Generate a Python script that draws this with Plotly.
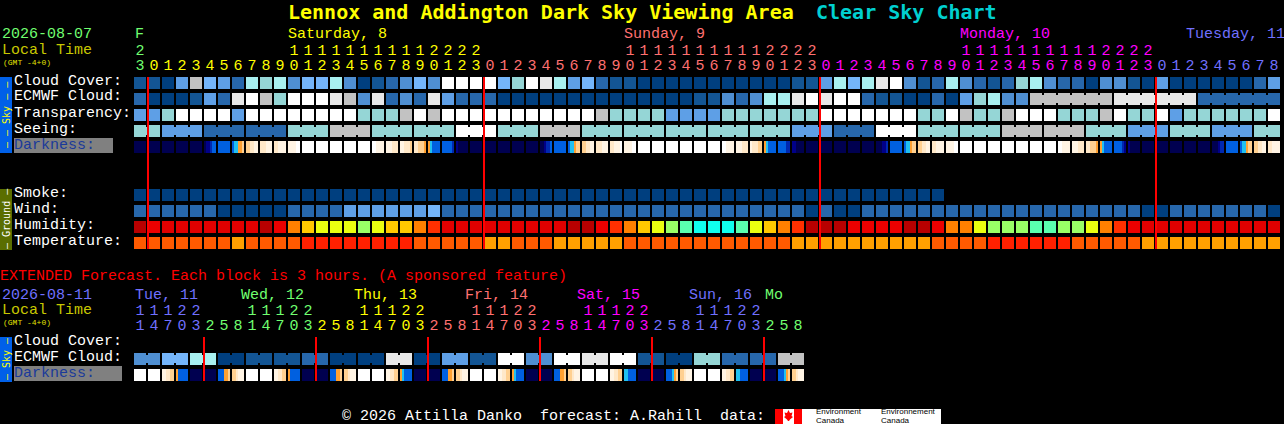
import plotly.graph_objects as go

W, H = 1284, 424
X_EDGE0 = 133      # pixel position of column edge 0
PITCH = 14         # pixels per column
MONO = "Liberation Mono"
TITLE_FONT = "DejaVu Sans Mono"

# ---------- palettes ----------
sky_colors = ["#003F7F", "#135594", "#2767AB", "#4F8FD2", "#5E9FE6", "#74B5FA",
              "#A8F0F0", "#95D6D6", "#C2C2C2", "#E8E8E8", "#FFFFFF"]
humidity_colors = ["#B80000", "#E00000", "#EC0000", "#FF3000", "#FF8000",
                   "#FFC800", "#EAFF10", "#99FF66", "#5AFFAF", "#10FFEE"]
temperature_colors = ["#FF2000", "#FF5A00", "#FFA000"]
darkness_colors = ["#000050", "#000088", "#0028B0", "#0060E0", "#20C0F0",
                   "#FFA030", "#FFD090", "#FFE8C8", "#FFF4E4", "#FFFFFF"]

# ---------- main forecast rows (one value per hour) ----------
cloud_cover = [1,1,0,4,8,5,4,2,6,7,6,3,5,5,6,3,0,1,2,3,5,
               3,10,10,10,10,5,7,10,9,6,4,5,2,1,1,0,0,0,0,0,0,0,0,0,0,0,1,1,4,6,5,
               6,9,10,3,1,2,6,3,2,1,2,7,6,3,2,2,0,3,3,1,0,4,0,0,0,0,0,0,2,4]
ecmwf_cloud = [2,0,0,0,1,4,2,9,10,8,7,10,10,10,9,8,3,9,2,3,2,
               9,4,2,2,2,0,0,0,0,0,0,0,0,0,0,0,0,0,0,1,1,3,2,3,6,6,9,10,9,10,10,
               2,1,1,0,0,2,0,4,7,6,3,3,8,8,8,8,8,8,9,9,9,9,9,9,2,2,2,2,2,2]
ecmwf_merged_spans = [[64, 69], [70, 75], [76, 81]]
transparency = [4,4,7,10,10,10,10,4,10,10,10,10,10,10,10,10,7,7,7,8,10,
                8,10,10,10,10,10,10,10,10,10,10,10,8,7,7,7,7,4,4,4,4,7,7,7,7,7,7,7,10,10,10,
                10,10,10,10,7,7,10,8,7,7,8,10,10,10,7,7,7,8,10,7,7,10,4,7,7,7,7,7,7,10]
seeing_blocks = [7,4,2,2,7,8,7,7,10,7,8,7,7,7,7,7,4,2,10,7,7,8,8,7,4,7,4,7]
seeing_block_sizes = [2,3,3,3,3,3,3,3,3,3,3,3,3,3,3,3,3,3,3,3,3,3,3,3,3,3,3,2]
smoke = [0,0,0,0,0,0,0,0,0,0,0,0,0,0,0,0,0,0,0,0,0,0,0,0,0,0,0,0,0,
         0,0,0,0,0,0,0,0,0,0,0,0,0,0,0,0,0,0,0,0,0,0,0,0,0,0,0,0,0]
wind = [2,2,2,2,2,2,0,0,0,0,0,2,2,2,2,4,4,4,4,4,4,
        5,2,2,2,2,2,2,2,2,2,2,2,2,2,2,2,2,2,2,2,2,2,2,2,2,2,2,0,2,0,0,
        2,2,2,2,2,2,2,2,2,2,2,2,2,2,2,2,2,2,2,2,0,0,2,2,2,2,2,2,2,0]
humidity = [0,2,1,1,1,1,1,1,1,0,2,4,5,6,6,6,7,6,5,5,4,
            3,1,1,1,1,1,1,1,1,1,0,0,2,3,4,5,6,7,8,9,9,9,8,6,5,4,3,0,0,0,2,
            2,2,2,0,0,2,4,4,6,7,7,7,8,8,7,7,6,4,3,2,1,1,1,1,1,1,1,1,1,1]
temperature = [1,1,1,1,1,1,1,2,1,1,1,1,0,0,0,0,0,0,0,0,1,
               1,1,1,1,2,2,1,1,1,2,2,2,2,2,1,1,1,1,1,1,1,1,1,1,1,1,2,2,2,2,2,
               2,2,2,2,2,1,1,1,1,0,0,0,0,0,0,1,1,1,1,1,2,2,2,2,2,2,2,2,2,2]
# six sub-samples across every hour, darkest (0) to full daylight (9)
darkness = ["000000","000000","000000","000000","000000","011233","333333","344556",
            "667788","777888","778888","888899","999999","999999","999999","999999",
            "999999","998888","888777","887776","776665","543333","333332","100000",
            "000000","000000","000000","000000","000000","001223","333333","344566",
            "667788","777888","778889","888899","999999","999999","999999","999999",
            "999999","999999","998888","888777","877766","543333","333322","110000",
            "000000","000000","000000","000000","000000","000112","333333","344566",
            "667788","778888","888899","999999","999999","999999","999999","999999",
            "999999","999999","998888","888777","776665","543333","333321","100000",
            "000000","000000","000000","000000","000000","000122","333333","344566",
            "667788","778888"]

# ---------- extended forecast rows (one value per 3 hours) ----------
ext_ecmwf_pairs = [3,5,6,0,1,1,2,0,0,9,0,4,1,10,3,10,9,10,1,0,7,2,2,8]
ext_darkness = ["999999","999999","887766","533333","000000","000000","333556","667888",
                "999999","999999","887766","533333","000000","000000","333556","667888",
                "999999","999999","887766","543333","000000","000000","333556","667888",
                "999999","999999","887766","543333","000000","000000","333556","667888",
                "999999","999999","887766","443333","000000","000000","333456","667888",
                "999999","999999","887766","443333","000000","000000","333456","667888"]

# ---------- tick labels ----------
hour_tens = "2" + "          11111111112222" * 3 + "         "
hour_ones = "3" + "012345678901234567890123" * 3 + "012345678"
hour_groups = [("#70FF70", 1), ("#FFFF00", 24), ("#FF7070", 24), ("#FF00FF", 24), ("#7070FF", 9)]
ext_tens = "11122" + "   11122" * 5 + "   "
ext_ones = "14703" + "25814703" * 5 + "258"
ext_groups = [("#7070FF", 5), ("#70FF70", 8), ("#FFFF00", 8), ("#FF7070", 8),
              ("#FF00FF", 8), ("#7070FF", 8), ("#70FF70", 3)]
day_labels = [("F", 135, "#70FF70"), ("Saturday, 8", 288, "#FFFF00"), ("Sunday, 9", 624, "#FF7070"),
              ("Monday, 10", 960, "#FF00FF"), ("Tuesday, 11", 1186, "#7070FF")]
ext_day_labels = [("Tue, 11", 135, "#7070FF"), ("Wed, 12", 241, "#70FF70"), ("Thu, 13", 354, "#FFFF00"),
                  ("Fri, 14", 465, "#FF7070"), ("Sat, 15", 577, "#FF00FF"), ("Sun, 16", 689, "#7070FF"),
                  ("Mo", 765, "#70FF70")]
midnights = [1, 25, 49, 73]
ext_midnights = [5, 13, 21, 29, 37, 45]

# ---------- derived ----------
seeing, seeing_spans = [], []
for value, size in zip(seeing_blocks, seeing_block_sizes):
    seeing_spans.append([len(seeing), len(seeing) + size - 1])
    seeing += [value] * size
ext_ecmwf, ext_spans = [], []
for value in ext_ecmwf_pairs:
    ext_spans.append([len(ext_ecmwf), len(ext_ecmwf) + 1])
    ext_ecmwf += [value, value]
for row in (cloud_cover, ecmwf_cloud, transparency, seeing, wind, humidity, temperature, darkness):
    assert len(row) == 82, len(row)
assert len(smoke) == 58 and len(ext_ecmwf) == 48 and len(ext_darkness) == 48


def stepped(colors):
    n = len(colors)
    scale = []
    for i, c in enumerate(colors):
        scale += [[i / n, c], [(i + 1) / n, c]]
    return scale


fig = go.Figure()


def row_cells(values, colors, top, height=12):
    fig.add_trace(go.Heatmap(
        x=list(range(len(values) + 1)), y=[top, top + height], z=[values],
        colorscale=stepped(colors), zmin=-0.5, zmax=len(colors) - 0.5,
        xgap=2, showscale=False, hoverinfo="skip"))


def bridges(values, colors, spans, top, height=12):
    xs, cols = [], []
    for a, b in spans:
        for i in range(a, b):
            xs.append(i + 1)
            cols.append(colors[values[i]])
    fig.add_trace(go.Bar(x=xs, y=[height - 4] * len(xs), base=[top + 2] * len(xs),
                         width=[2 / PITCH] * len(xs), marker=dict(color=cols, line_width=0),
                         hoverinfo="skip", showlegend=False))


def darkness_row(cells, top, height=12):
    # each hour: six 2-pixel samples, then one empty 2-pixel column for the gap
    z, edges = [], []
    for i, samples in enumerate(cells):
        for k, s in enumerate(samples):
            z.append(int(s))
            edges.append(i + (1 + 2 * k) / PITCH)
        z.append(None)
        edges.append(i + 13 / PITCH)
    edges.append(len(cells) + 1 / PITCH)
    fig.add_trace(go.Heatmap(x=edges, y=[top, top + height], z=[z],
                             colorscale=stepped(darkness_colors), zmin=-0.5, zmax=9.5,
                             showscale=False, hoverinfo="skip", hoverongaps=False))


row_cells(cloud_cover, sky_colors, 77)
row_cells(ecmwf_cloud, sky_colors, 93)
bridges(ecmwf_cloud, sky_colors, ecmwf_merged_spans, 93)
row_cells(transparency, sky_colors, 109)
row_cells(seeing, sky_colors, 125)
bridges(seeing, sky_colors, seeing_spans, 125)
darkness_row(darkness, 141)
row_cells(smoke, sky_colors, 189)
row_cells(wind, sky_colors, 205)
row_cells(humidity, humidity_colors, 221)
row_cells(temperature, temperature_colors, 237)
row_cells(ext_ecmwf, sky_colors, 353)
bridges(ext_ecmwf, sky_colors, ext_spans, 353)
darkness_row(ext_darkness, 369)


def digits(text, groups, y):
    cols = []
    for c, n in groups:
        cols += [c] * n
    idx = [i for i, ch in enumerate(text) if ch != " "]
    fig.add_trace(go.Scatter(x=[i + 0.5 for i in idx], y=[y] * len(idx), mode="text",
                             text=[text[i] for i in idx],
                             textfont=dict(family=MONO, size=15, color=[cols[i] for i in idx]),
                             textposition="middle center", hoverinfo="skip", showlegend=False,
                             cliponaxis=False))


digits(hour_tens, hour_groups, 51)
digits(hour_ones, hour_groups, 66)
digits(ext_tens, ext_groups, 311)
digits(ext_ones, ext_groups, 326)

annotations = []


def label(text, x, y, color="#FFFFFF", size=15, family=MONO, bold=False, angle=0, anchor="left"):
    annotations.append(dict(
        text=f"<b>{text}</b>" if bold else text, xref="paper", yref="paper",
        x=x / W, y=1 - y / H, xanchor=anchor, yanchor="middle", showarrow=False,
        font=dict(family=family, size=size, color=color), textangle=angle,
        borderpad=0, borderwidth=0))


shapes = []


def rect(x0, y0, x1, y1, color, layer="below"):
    shapes.append(dict(type="rect", xref="paper", yref="paper", x0=x0 / W, x1=x1 / W,
                       y0=1 - y0 / H, y1=1 - y1 / H, fillcolor=color, line_width=0, layer=layer))


def redline(col, y0, y1):
    px = X_EDGE0 + PITCH * col
    rect(px, y0, px + 2, y1, "#FF0000", "above")


# titles and headers
label("Lennox and Addington Dark Sky Viewing Area", 288, 12, "#FFFF00", 20, TITLE_FONT, bold=True)
label("Clear Sky Chart", 816, 12, "#00D0D0", 20, TITLE_FONT, bold=True)
label("2026-08-07", 2, 35, "#70FF70")
label("Local Time", 2, 50, "#C8C800")
label("(GMT -4+0)", 3, 62, "#E0E000", 8)
for text, x, c in day_labels:
    label(text, x, 35, c)
label("EXTENDED Forecast. Each block is 3 hours. (A sponsored feature)", 0, 276, "#FF0000")
label("2026-08-11", 2, 295, "#7070FF")
label("Local Time", 2, 310, "#C8C800")
label("(GMT -4+0)", 3, 322, "#E0E000", 8)
for text, x, c in ext_day_labels:
    label(text, x, 295, c)

# row labels
for text, y in [("Cloud Cover:", 81), ("ECMWF Cloud:", 97), ("Transparency:", 113), ("Seeing:", 129),
                ("Smoke:", 193), ("Wind:", 209), ("Humidity:", 225), ("Temperature:", 241),
                ("Cloud Cover:", 341), ("ECMWF Cloud:", 357)]:
    label(text, 14, y)
rect(14, 138, 113, 153, "#808080")
label("Darkness:", 14, 145, "#1A3A9A")
rect(14, 366, 122, 381, "#808080")
label("Darkness:", 14, 373, "#1A3A9A")

# side strips
rect(0, 77, 12, 153, "#0060E8")
label("— — Sky — —", 6, 115, "#FFFF00", 10, "DejaVu Sans Mono", angle=-90, anchor="center")
rect(0, 189, 12, 250, "#5A6E00")
label("— Ground —", 6, 219, "#FFFFFF", 10, "DejaVu Sans Mono", angle=-90, anchor="center")
rect(0, 337, 12, 382, "#0060E8")
label("— Sky —", 6, 359, "#FFFF00", 10, "DejaVu Sans Mono", angle=-90, anchor="center")

# midnight markers
for c in midnights:
    redline(c, 77, 249)
for c in ext_midnights:
    redline(c, 337, 381)

# footer
label("© 2026 Attilla Danko  forecast: A.Rahill  data:", 342, 416)
rect(775, 409, 941, 424, "#FFFFFF")
rect(775, 409, 783, 424, "#FF0000")
rect(794, 409, 802, 424, "#FF0000")
leaf = [(788.5, 410), (790, 413), (792.5, 412.5), (791.5, 416), (793, 417), (790, 419.5),
        (789, 421), (788, 421), (787, 419.5), (784, 417), (785.5, 416), (784.5, 412.5), (787, 413)]
shapes.append(dict(type="path", xref="paper", yref="paper",
                   path="M " + " L ".join(f"{x / W:.5f},{1 - y / H:.5f}" for x, y in leaf) + " Z",
                   fillcolor="#FF0000", line_width=0, layer="below"))
for x, word in [(816, "Environment"), (881, "Environnement")]:
    label(word, x, 411.5, "#000000", 8, "Liberation Sans")
    label("Canada", x, 420, "#000000", 8, "Liberation Sans")

fig.update_layout(
    width=W, height=H, margin=dict(l=0, r=0, t=0, b=0, pad=0), autosize=False,
    paper_bgcolor="#000000", plot_bgcolor="#000000", showlegend=False, barmode="overlay",
    xaxis=dict(range=[-X_EDGE0 / PITCH, (W - X_EDGE0) / PITCH], visible=False, fixedrange=True),
    yaxis=dict(range=[H, 0], visible=False, fixedrange=True),
    annotations=annotations, shapes=shapes, hovermode=False)

fig.write_html("out.html", config=dict(displayModeBar=False),
               post_script="document.body.style.margin='0';document.body.style.overflow='hidden';")
